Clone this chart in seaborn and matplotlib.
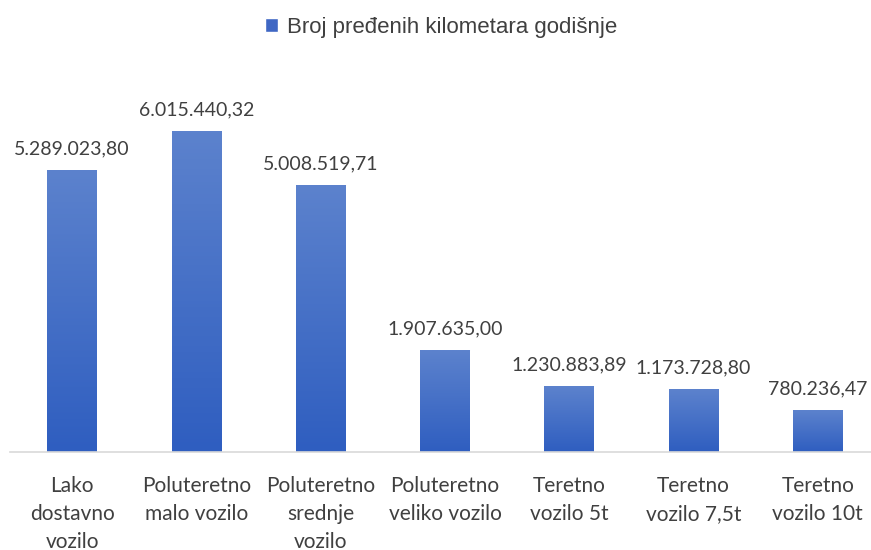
import matplotlib
matplotlib.use("Agg")
import matplotlib.pyplot as plt
import matplotlib.colors as mcolors
import numpy as np
import seaborn as sns
import pandas as pd

categories = ["Lako\ndostavno\nvozilo", "Poluteretno\nmalo vozilo", "Poluteretno\nsrednje\nvozilo",
              "Poluteretno\nveliko vozilo", "Teretno\nvozilo 5t", "Teretno\nvozilo 7,5t", "Teretno\nvozilo 10t"]
values = [5289023.80, 6015440.32, 5008519.71, 1907635.00, 1230883.89, 1173728.80, 780236.47]
series = "Broj pređenih kilometara godišnje"

bar_color = "#3F67C4"
text_color = "#404040"

sns.set_theme(style="white")
plt.rcParams["font.family"] = ["Lato", "DejaVu Sans"]

df = pd.DataFrame({"cat": categories, "val": values, "series": series})

fig = plt.figure(figsize=(8.71, 5.5), dpi=100)
ax = fig.add_axes([10 / 871, 98 / 550, 870 / 871, 402 / 550])

sns.barplot(data=df, x="cat", y="val", hue="series", palette=[bar_color], width=0.4,
            ax=ax, legend=True, saturation=1)

# soft vertical gradient on the bars (lighter at the top)
grad = mcolors.LinearSegmentedColormap.from_list("g", ["#2F5EC0", "#5C82CD"])
for bar in ax.containers[0]:
    x0, y0 = bar.get_x(), bar.get_y()
    w, h = bar.get_width(), bar.get_height()
    im = ax.imshow(np.linspace(0, 1, 100).reshape(-1, 1), cmap=grad, origin="lower",
                   extent=[x0, x0 + w, y0, y0 + h], aspect="auto", zorder=bar.get_zorder() + 0.1)
    im.set_clip_path(bar)

# European number format for the data labels
def fmt(v):
    return f"{v:,.2f}".replace(",", "X").replace(".", ",").replace("X", ".")

ax.bar_label(ax.containers[0], labels=[fmt(v) for v in values], padding=9,
             fontsize=14, color=text_color)

ax.set_ylim(0, 402 / 53.4 * 1e6)
ax.set_xlim(-0.5, 6.5)
ax.set_xlabel("")
ax.set_ylabel("")
ax.set_yticks([])
ax.tick_params(axis="x", length=0, pad=17, labelsize=15, labelcolor=text_color)
for lbl in ax.get_xticklabels():
    lbl.set_linespacing(1.5)
    lbl.set_verticalalignment("top")

for side in ["top", "right", "left"]:
    ax.spines[side].set_visible(False)
ax.spines["bottom"].set_color("#d9d9d9")
ax.spines["bottom"].set_linewidth(1.2)

leg = ax.legend(loc="upper center", bbox_to_anchor=(441 / 871, 1.005), bbox_transform=fig.transFigure,
                frameon=False, handlelength=0.6, handleheight=0.6, handletextpad=0.4,
                prop={"family": ["Liberation Sans", "DejaVu Sans"], "size": 16})
for t in leg.get_texts():
    t.set_color(text_color)

fig.savefig("out.png", dpi=100)
